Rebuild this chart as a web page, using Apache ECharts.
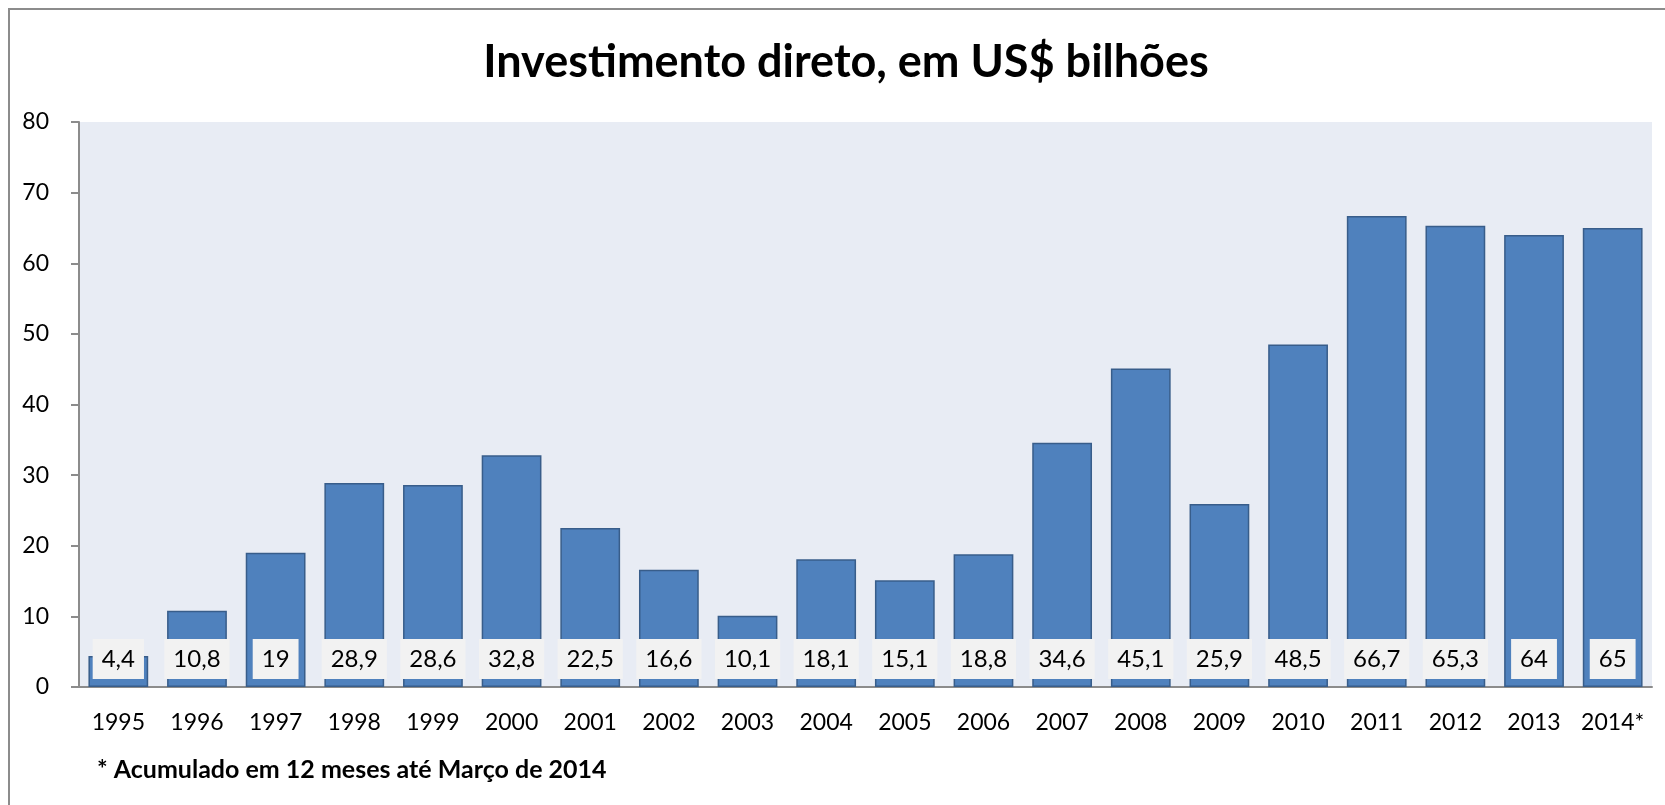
<!DOCTYPE html>
<html>
<head>
<meta charset="utf-8" />
<title>Investimento direto</title>
<script src="https://cdn.jsdelivr.net/npm/echarts@6/dist/echarts.min.js"></script>
<style>
  html,
  body {
    margin: 0;
    padding: 0;
    background: #fff;
  }
  #chart {
    width: 1665px;
    height: 805px;
  }
</style>
</head>
<body>
<div id="chart"></div>
<script>
// dados
const years = [
  "1995", "1996", "1997", "1998", "1999", "2000", "2001", "2002", "2003", "2004",
  "2005", "2006", "2007", "2008", "2009", "2010", "2011", "2012", "2013", "2014*",
];
const investimento = [
  4.4, 10.8, 19, 28.9, 28.6, 32.8, 22.5, 16.6, 10.1, 18.1,
  15.1, 18.8, 34.6, 45.1, 25.9, 48.5, 66.7, 65.3, 64, 65,
];
const titleText = "Investimento direto, em US$ bilhões";
const footnote = "* Acumulado em 12 meses até Março de 2014";

const FONT = "Lato, 'Open Sans', sans-serif";

const chart = echarts.init(document.getElementById("chart"));

const option = {
  animation: false,
  textStyle: {
    fontFamily: FONT,
  },
  grid: {
    left: 79,
    right: 13,
    top: 122,
    bottom: 118,
    containLabel: false,
    show: true,
    backgroundColor: "#E8ECF4",
    borderWidth: 0,
  },
  xAxis: {
    type: "category",
    data: years,
    axisLine: {
      show: true,
      lineStyle: { color: "#8c8c8c", width: 2 },
    },
    axisTick: { show: false },
    axisLabel: {
      color: "#000",
      fontSize: 23,
      fontFamily: FONT,
      margin: 24,
      interval: 0, // mostrar todos os anos
    },
    splitLine: { show: false },
  },
  yAxis: {
    type: "value",
    min: 0,
    max: 80,
    interval: 10,
    axisLine: {
      show: true,
      lineStyle: { color: "#8c8c8c", width: 2 },
    },
    axisTick: {
      show: true,
      length: 8,
      lineStyle: { color: "#8c8c8c", width: 2 },
    },
    axisLabel: {
      color: "#000",
      fontSize: 23,
      fontFamily: FONT,
      margin: 30,
    },
    splitLine: { show: false },
  },
  series: [
    {
      name: "Investimento",
      type: "bar",
      data: investimento,
      barCategoryGap: "24%",
      itemStyle: {
        color: "#4F81BD",
        borderColor: "#385D8A",
        borderWidth: 1.5,
      },
      label: {
        show: true,
        position: "insideBottom",
        distance: 8,
        color: "#000",
        fontSize: 24,
        fontFamily: FONT,
        lineHeight: 24,
        backgroundColor: "#F2F2F2",
        padding: [8, 9, 8, 9],
        // vírgula decimal
        formatter: (p) => String(p.value).replace(".", ","),
      },
    },
  ],
  graphic: [
    {
      // moldura do gráfico (direita e base ficam fora da tela)
      type: "rect",
      shape: { x: 9, y: 9, width: 1700, height: 850 },
      style: { fill: "none", stroke: "#8c8c8c", lineWidth: 2 },
      silent: true,
      z: -1,
    },
    {
      type: "text",
      style: {
        text: titleText,
        x: 846,
        y: 62,
        textAlign: "center",
        textVerticalAlign: "middle",
        fill: "#000",
        font: "bold 45px " + FONT,
      },
    },
    {
      type: "text",
      style: {
        text: footnote,
        x: 97,
        y: 770,
        textAlign: "left",
        textVerticalAlign: "middle",
        fill: "#000",
        font: "bold 25px " + FONT,
      },
    },
  ],
};

chart.setOption(option, true);
</script>
</body>
</html>
